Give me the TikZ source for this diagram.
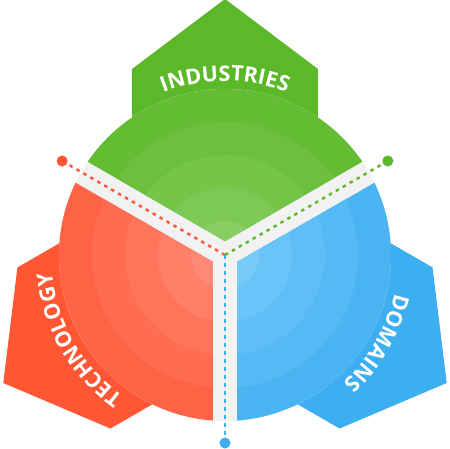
\documentclass[tikz,border=0pt]{standalone}
\usepackage{fontspec}
\setmainfont{Open Sans}
\usetikzlibrary{decorations.text}
% tab colours and ring colours (outer -> inner)
\definecolor{gT}{RGB}{91,184,40}
\definecolor{gA}{RGB}{99,188,50}
\definecolor{gB}{RGB}{108,192,61}
\definecolor{gC}{RGB}{117,197,73}
\definecolor{gD}{RGB}{126,201,85}
\definecolor{gE}{RGB}{136,206,98}
\definecolor{rT}{RGB}{255,86,52}
\definecolor{rA}{RGB}{255,99,69}
\definecolor{rB}{RGB}{255,108,80}
\definecolor{rC}{RGB}{255,117,92}
\definecolor{rD}{RGB}{255,127,104}
\definecolor{rE}{RGB}{255,137,116}
\definecolor{bT}{RGB}{61,174,240}
\definecolor{bA}{RGB}{74,180,242}
\definecolor{bB}{RGB}{84,185,244}
\definecolor{bC}{RGB}{95,190,245}
\definecolor{bD}{RGB}{107,196,247}
\definecolor{bE}{RGB}{120,202,248}
\definecolor{band}{RGB}{242,242,242}
\tikzset{
  dline/.style={line width=2.4pt, dash pattern=on 3.5pt off 4.5pt},
  enddot/.style={circle, inner sep=0pt, minimum size=11pt},
  tabtext/.style={decorate, decoration={text along path, text align=center,
      text color=white, text={|\fontsize{21.5}{21.5}\bfseries\selectfont|#1}}}
}
\newcommand\mytab[2]{%
  \fill[#2, rotate=#1] (0,256) -- (93,186) -- (93,0) -- (-93,0) -- (-93,186) -- cycle;}
\newcommand\mysector[6]{%
  \begin{scope}[rotate=#1]
    \clip (0,14) -- +(30:300) -- +(90:300) -- +(150:300) -- cycle;
    \fill[#2] (0,0) circle (166);
    \fill[#3] (0,0) circle (133);
    \fill[#4] (0,0) circle (100);
    \fill[#5] (0,0) circle (67);
    \fill[#6] (0,0) circle (34);
  \end{scope}}
\begin{document}
\begin{tikzpicture}[x=1pt,y=1pt]
\useasboundingbox (-225,-193) rectangle (225,255);
\coordinate (C) at (0,0);
% tabs
\mytab{0}{gT}
\mytab{120}{rT}
\mytab{240}{bT}
% grey disk (bands)
\fill[band] (C) circle (166);
% sectors with rings
\mysector{0}{gA}{gB}{gC}{gD}{gE}
\mysector{120}{rA}{rB}{rC}{rD}{rE}
\mysector{240}{bA}{bB}{bC}{bD}{bE}
% labels
\path[tabtext=INDUSTRIES] (135:174) arc (135:45:174);
\path[tabtext=TECHNOLOGY, rotate=120] (135:174) arc (135:45:174);
\path[tabtext=DOMAINS, rotate=240] (135:174) arc (135:45:174);
% end dots
\node[enddot, fill=rT] (rdot) at (150:188) {};
\node[enddot, fill=gT] (gdot) at (30:188) {};
\node[enddot, fill=bT] (bdot) at (270:188) {};
% dotted lines
\draw[dline, rT] (C) -- (rdot);
\draw[dline, gT] (C) -- (gdot);
\draw[dline, bT] (C) -- (bdot);
\end{tikzpicture}
\end{document}
